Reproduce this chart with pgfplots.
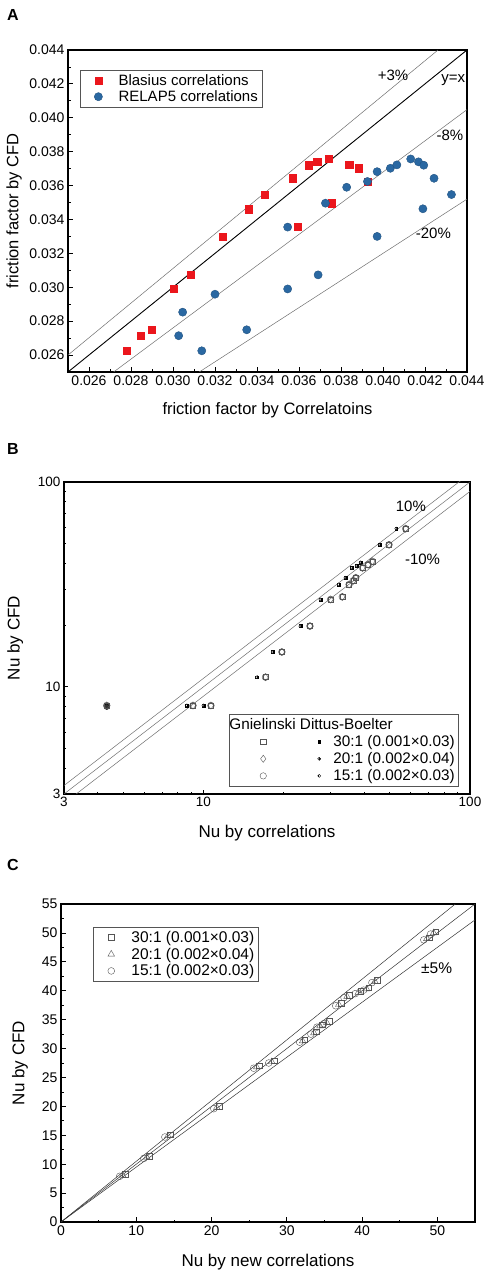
\documentclass[border=0pt]{standalone}
\usepackage{fontspec}
\setmainfont{Liberation Sans}
\usepackage{pgfplots}
\pgfplotsset{compat=1.18}
\usetikzlibrary{plotmarks}
\definecolor{bred}{RGB}{235,22,28}
\definecolor{rblue}{RGB}{42,104,162}
\definecolor{mgray}{RGB}{85,85,85}
\definecolor{lgray}{RGB}{110,110,110}

\pgfplotsset{
  common/.style={scale only axis, tick align=inside, tick pos=left,
    axis line style={line width=1.1pt, black},
    major tick length=4.5pt, minor tick length=2.5pt,
    every tick/.style={black, line width=0.8pt},
    scaled ticks=false,
    /pgf/number format/assume math mode=true, clip=true},
  onemark/.style={legend image code/.code={\path (0pt,0pt) (34pt,0pt); \draw plot coordinates {(16pt,0pt)};}},
}

\begin{document}
\begin{tikzpicture}[x=1pt,y=1pt]
\useasboundingbox (0,0) rectangle (494,1276);
\node[font=\bfseries\fontsize{16}{18}\selectfont] at (13,1261) {A};
\node[font=\bfseries\fontsize{16}{18}\selectfont] at (13,827) {B};
\node[font=\bfseries\fontsize{16}{18}\selectfont] at (13,411) {C};

% ---------------- Panel A ----------------
\begin{axis}[common, at={(68pt,904pt)}, anchor=south west, width=399pt, height=322pt,
  xmin=0.025, xmax=0.044, ymin=0.025, ymax=0.044,
  xtick={0.026,0.028,0.030,0.032,0.034,0.036,0.038,0.040,0.042,0.044},
  xticklabels={0.026,0.028,0.030,0.032,0.034,0.036,0.038,0.040,0.042,0.044},
  minor xtick={0.025,0.027,0.029,0.031,0.033,0.035,0.037,0.039,0.041,0.043},
  ytick={0.026,0.028,0.030,0.032,0.034,0.036,0.038,0.040,0.042,0.044},
  yticklabels={0.026,0.028,0.030,0.032,0.034,0.036,0.038,0.040,0.042,0.044},
  minor ytick={0.025,0.027,0.029,0.031,0.033,0.035,0.037,0.039,0.041,0.043},
  tick label style={font=\fontsize{14}{16}\selectfont},
  xlabel={friction factor by Correlatoins}, ylabel={friction factor by CFD},
  label style={font=\fontsize{16.5}{18}\selectfont},
  xlabel style={at={(axis description cs:0.5,-0.118)}, anchor=center},
  ylabel style={at={(axis description cs:-0.135,0.5)}, anchor=center},
  legend style={at={(axis description cs:0.03,0.938)}, anchor=north west, draw=mgray,
    font=\fontsize{15}{17}\selectfont, legend cell align=left, inner sep=2pt, row sep=0pt},
]
\addplot[black, line width=0.9pt, forget plot] coordinates {(0.025,0.025) (0.044,0.044)};
\addplot[lgray, line width=0.5pt, forget plot] coordinates {(0.025,0.0260) (0.04262,0.044)};
\addplot[lgray, line width=0.5pt, forget plot] coordinates {(0.025,0.023) (0.044,0.04048)};
\addplot[lgray, line width=0.5pt, forget plot] coordinates {(0.025,0.020) (0.044,0.0352)};
\addplot[only marks, onemark, mark=square*, mark size=3.6pt, color=bred, mark options={draw=bred, fill=bred}] coordinates {
(0.0278,0.02625) (0.02846,0.02714) (0.02899,0.02749) (0.03005,0.0299) (0.03085,0.03073)
(0.03238,0.0330) (0.03361,0.03461) (0.03435,0.03547) (0.0357,0.03643) (0.03594,0.03355)
(0.03647,0.0372) (0.03687,0.0374) (0.03742,0.03757) (0.03756,0.03496) (0.03839,0.03724)
(0.03885,0.03702) (0.03929,0.03622)};
\addlegendentry{Blasius correlations}
\addplot[only marks, onemark, mark=*, mark size=4.1pt, color=rblue, mark options={draw=rblue!80!black, fill=rblue}] coordinates {
(0.03027,0.02714) (0.03046,0.02853) (0.03137,0.02625) (0.0320,0.02959) (0.03351,0.02749)
(0.03546,0.03355) (0.03546,0.0299) (0.03691,0.03073) (0.03726,0.03496) (0.03827,0.0359)
(0.03926,0.03624) (0.03972,0.0330) (0.03972,0.03682) (0.04035,0.03702) (0.04066,0.03722)
(0.04132,0.03757) (0.04169,0.0374) (0.04194,0.0372) (0.0419,0.03463) (0.04243,0.03643)
(0.04326,0.03547)};
\addlegendentry{RELAP5 correlations}
\node[font=\fontsize{15}{17}\selectfont] at (axis cs:0.04048,0.04253) {+3\%};
\node[font=\fontsize{15}{17}\selectfont] at (axis cs:0.04335,0.04224) {y=x};
\node[font=\fontsize{15}{17}\selectfont] at (axis cs:0.04319,0.03899) {-8\%};
\node[font=\fontsize{15}{17}\selectfont] at (axis cs:0.04240,0.03319) {-20\%};
\end{axis}

% ---------------- Panel B ----------------
\begin{axis}[common, at={(64pt,482pt)}, anchor=south west, width=406pt, height=312pt,
  xmode=log, ymode=log, xmin=3, xmax=100, ymin=3, ymax=100,
  xtick={3,10,100}, xticklabels={3,10,100},
  ytick={3,10,100}, yticklabels={3,10,100},
  minor xtick={4,5,6,7,8,9,20,30,40,50,60,70,80,90},
  minor ytick={4,5,6,7,8,9,20,30,40,50,60,70,80,90},
  tick label style={font=\fontsize{13.5}{15}\selectfont},
  xlabel={Nu by correlations}, ylabel={Nu by CFD},
  label style={font=\fontsize{17}{19}\selectfont},
  xlabel style={at={(axis description cs:0.5,-0.125)}, anchor=center},
  ylabel style={at={(axis description cs:-0.12,0.5)}, anchor=center},
  legend style={at={(axis description cs:0.406,0.256)}, anchor=north west, draw=mgray,
    font=\fontsize{15.3}{17}\selectfont, legend cell align=left, inner sep=2pt, row sep=0.5pt},
]
\addplot[lgray, line width=0.5pt, forget plot] coordinates {(3,3) (100,100)};
\addplot[lgray, line width=0.5pt, forget plot] coordinates {(3,3.3) (100,110)};
\addplot[lgray, line width=0.5pt, forget plot] coordinates {(3,2.7) (100,90)};
% Dittus-Boelter (small filled)
\addplot[only marks, forget plot, mark=square*, mark size=1.4pt, black] coordinates {
(4.34,8.11) (8.67,8.11) (10.0,8.11) (15.9,11.15) (18.2,14.8) (23.1,19.8) (27.5,26.7)
(32.2,31.6) (34.1,34.1) (36.1,38.1) (37.6,39.0) (38.9,40.5) (45.8,49.4) (52.9,59.2)};
\addplot[only marks, forget plot, mark=halfsquare right*, mark size=1.6pt, black] coordinates {
(4.34,8.11) (8.67,8.11) (10.0,8.11) (15.9,11.15) (18.2,14.8) (23.1,19.8) (27.5,26.7)
(32.2,31.6) (34.1,34.1) (36.1,38.1) (37.6,39.0) (38.9,40.5) (45.8,49.4) (52.9,59.2)};
\addplot[only marks, forget plot, mark=*, mark size=2.8pt, black, mark options={fill=black!80}] coordinates {(4.34,8.0)};
% Gnielinski (open)
\addplot[only marks, forget plot, mark=square, mark size=2.5pt, mgray, mark options={fill=white}] coordinates {
(4.34,8.11) (9.14,8.11) (10.67,8.11) (17.1,11.15) (19.7,14.8) (25.1,19.8) (30.0,26.7)
(33.2,27.5) (35.2,31.6) (36.5,33.0) (37.3,34.1) (39.5,38.1) (41.5,39.5) (43.0,41.0) (49.7,49.4) (57.4,59.2)};
\addplot[only marks, forget plot, mark=diamond, mark size=3.6pt, mgray] coordinates {
(4.34,8.11) (9.14,8.11) (10.67,8.11) (17.1,11.15) (19.7,14.8) (25.1,19.8) (30.0,26.7)
(33.2,27.5) (35.2,31.6) (36.5,33.0) (37.3,34.1) (39.5,38.1) (41.5,39.5) (43.0,41.0) (49.7,49.4) (57.4,59.2)};
\addplot[only marks, forget plot, mark=o, mark size=3.4pt, mgray] coordinates {
(4.34,8.11) (9.14,8.11) (10.67,8.11) (17.1,11.15) (19.7,14.8) (25.1,19.8) (30.0,26.7)
(33.2,27.5) (35.2,31.6) (36.5,33.0) (37.3,34.1) (39.5,38.1) (41.5,39.5) (43.0,41.0) (49.7,49.4) (57.4,59.2)};
\addlegendimage{empty legend}
\addlegendentry{\makebox[0pt][l]{\hspace*{-104pt}Gnielinski Dittus-Boelter}}
\addlegendimage{legend image code/.code={\path (0pt,0pt) (100pt,0pt);
  \draw[mgray, mark=square, mark size=2.8pt] plot coordinates {(32pt,0pt)};
  \draw[black, mark=square*, mark size=1.3pt] plot coordinates {(88pt,0pt)};}}
\addlegendentry{30:1 (0.001×0.03)}
\addlegendimage{legend image code/.code={\path (0pt,0pt) (100pt,0pt);
  \draw[mgray, mark=diamond, mark size=3.6pt] plot coordinates {(32pt,0pt)};
  \draw[black, mark=halfsquare right*, mark size=1.5pt] plot coordinates {(88pt,0pt)};}}
\addlegendentry{20:1 (0.002×0.04)}
\addlegendimage{legend image code/.code={\path (0pt,0pt) (100pt,0pt);
  \draw[mgray, mark=o, mark size=3.2pt] plot coordinates {(32pt,0pt)};
  \draw[black, mark=halfcircle*, mark size=1.5pt, mark options={rotate=90}] plot coordinates {(88pt,0pt)};}}
\addlegendentry{15:1 (0.002×0.03)}
\node[font=\fontsize{15}{17}\selectfont] at (axis cs:60.0,76.0) {10\%};
\node[font=\fontsize{15}{17}\selectfont] at (axis cs:66.4,41.8) {-10\%};
\end{axis}

% ---------------- Panel C ----------------
\begin{axis}[common, at={(61pt,54pt)}, anchor=south west, width=414pt, height=318pt,
  xmin=0, xmax=55, ymin=0, ymax=55,
  xtick={0,10,20,30,40,50}, minor xtick={5,15,25,35,45,55},
  ytick={0,5,10,15,20,25,30,35,40,45,50,55},
  minor ytick={2.5,7.5,12.5,17.5,22.5,27.5,32.5,37.5,42.5,47.5,52.5},
  tick label style={font=\fontsize{14}{16}\selectfont},
  xlabel={Nu by new correlations}, ylabel={Nu by CFD},
  label style={font=\fontsize{17}{19}\selectfont},
  xlabel style={at={(axis description cs:0.5,-0.126)}, anchor=center},
  ylabel style={at={(axis description cs:-0.099,0.5)}, anchor=center},
  legend style={at={(axis description cs:0.077,0.928)}, anchor=north west, draw=mgray,
    font=\fontsize{15.5}{17}\selectfont, legend cell align=left, inner sep=2pt, row sep=0pt},
]
\addplot[black!80, line width=0.5pt, forget plot] coordinates {(0,0) (55,55)};
\addplot[black!80, line width=0.5pt, forget plot] coordinates {(0,0) (52.38,55)};
\addplot[black!80, line width=0.5pt, forget plot] coordinates {(0,0) (55,52.25)};
\addplot[only marks, onemark, mark=square, mark size=2.8pt, mgray, mark options={fill=white}] coordinates {
(8.5,8.3) (11.7,11.4) (14.5,15.1) (21.0,20.0) (26.3,27.0) (28.3,27.9) (32.4,31.5) (33.9,32.9)
(34.7,34.1) (35.6,34.7) (37.2,37.8) (38.3,39.2) (39.8,39.9) (40.9,40.5) (42.0,41.8) (48.9,49.2) (49.8,50.2)};
\addlegendentry{30:1 (0.001×0.03)}
\addplot[only marks, onemark, mark=triangle, mark size=3.8pt, mgray] coordinates {
(8.2,8.1) (11.4,11.2) (14.2,14.9) (20.7,19.8) (26.0,26.8) (28.0,27.7) (32.1,31.3) (33.6,32.7)
(34.4,33.9) (35.3,34.5) (36.9,37.6) (38.0,39.0) (39.5,39.7) (40.6,40.3) (41.7,41.6) (48.6,49.0) (49.5,50.0)};
\addlegendentry{20:1 (0.002×0.04)}
\addplot[only marks, onemark, mark=o, mark size=3.4pt, mgray] coordinates {
(7.8,7.9) (11.0,11.0) (13.8,14.7) (20.3,19.6) (25.6,26.6) (27.6,27.5) (31.7,31.1) (33.2,32.5)
(34.0,33.7) (34.9,34.3) (36.5,37.4) (37.6,38.8) (39.1,39.5) (40.2,40.1) (41.3,41.4) (48.2,48.8) (49.1,49.8)};
\addlegendentry{15:1 (0.002×0.03)}
\node[font=\fontsize{15.5}{17}\selectfont] at (axis cs:49.9,43.9) {±5\%};
\end{axis}
\end{tikzpicture}
\end{document}
